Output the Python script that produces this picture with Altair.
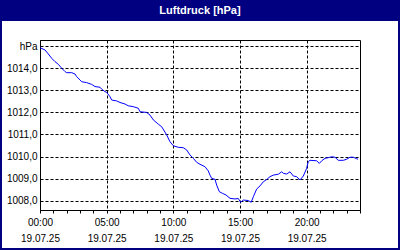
import altair as alt
import pandas as pd

TITLE = "Luftdruck [hPa]"
DATE_LABEL = "19.07.25"
UNIT = "hPa"

hours = [0, 0.375, 0.62, 0.88, 1.125, 1.37, 1.63, 1.875, 2.0, 2.38, 2.625, 2.75, 3.0, 3.13,
         3.5, 3.88, 4.125, 4.5, 4.63, 4.875, 5.0, 5.25, 5.38, 5.75, 6.0, 6.375, 6.62, 7.0,
         7.37, 7.5, 8.0, 8.25, 8.5, 8.87, 9.13, 9.5, 9.75, 10.0, 10.37, 10.75, 11.0, 11.25,
         11.5, 11.75, 12.0, 12.375, 12.62, 12.75, 12.88, 13.125, 13.25, 13.45, 13.7, 13.95,
         14.25, 14.625, 14.87, 15.05, 15.25, 15.62, 15.84, 16.0, 16.25, 16.5, 16.75, 17.0,
         17.25, 17.5, 17.87, 18.13, 18.25, 18.5, 18.75, 19.0, 19.25, 19.5, 19.75, 20.0,
         20.12, 20.25, 20.75, 20.95, 21.13, 21.375, 21.62, 21.88, 22.125, 22.37, 22.75,
         23.0, 23.25, 23.5, 23.75, 23.85]
pressure = [1014.93, 1014.83, 1014.65, 1014.45, 1014.30, 1014.18, 1014.00, 1013.85, 1013.80,
            1013.80, 1013.74, 1013.62, 1013.47, 1013.39, 1013.35, 1013.27, 1013.17, 1013.14,
            1013.05, 1012.94, 1012.91, 1012.71, 1012.56, 1012.52, 1012.45, 1012.38, 1012.30,
            1012.26, 1012.19, 1012.03, 1012.00, 1011.88, 1011.66, 1011.47, 1011.35, 1010.98,
            1010.67, 1010.49, 1010.42, 1010.40, 1010.30, 1010.07, 1009.92, 1009.74, 1009.65,
            1009.54, 1009.35, 1009.16, 1009.01, 1008.97, 1008.71, 1008.41, 1008.33, 1008.26,
            1008.11, 1008.08, 1008.10, 1007.93, 1008.03, 1008.01, 1007.93, 1008.18, 1008.53,
            1008.67, 1008.86, 1008.96, 1009.09, 1009.16, 1009.20, 1009.31, 1009.24, 1009.21,
            1009.31, 1009.12, 1009.09, 1008.94, 1009.12, 1009.47, 1009.77, 1009.83, 1009.81,
            1009.69, 1009.81, 1009.92, 1009.95, 1009.99, 1009.97, 1009.83, 1009.83, 1009.88,
            1009.97, 1009.97, 1009.90, 1009.88]

x_ticks = list(range(0, 25))
y_ticks = [1008, 1009, 1010, 1011, 1012, 1013, 1014, 1015]

df = pd.DataFrame({"h": hours, "p": pressure})

NAVY = "#000080"
FONT = "Liberation Sans"

one = alt.Data(values=[{"t": TITLE}])

frame = alt.Chart(one).mark_rect(fill="transparent", stroke=NAVY, strokeWidth=2, clip=False).encode(
    x=alt.value(-39), x2=alt.value(359), y=alt.value(-39), y2=alt.value(209)
)
bar = alt.Chart(one).mark_rect(fill=NAVY, clip=False).encode(
    x=alt.value(-40), x2=alt.value(360), y=alt.value(-40), y2=alt.value(-19)
)
title = alt.Chart(one).mark_text(
    color="white", font=FONT, fontSize=11, fontWeight="bold", align="center", baseline="middle", clip=False
).encode(x=alt.value(160), y=alt.value(-29), text="t:N")

x_axis = alt.Axis(
    values=x_ticks, title=None, tickSize=3, tickColor="black", domainColor="black",
    labelExpr=f"datum.value % 5 === 0 && datum.value < 24 ? [(datum.value < 10 ? '0' : '') + datum.value + ':00', '{DATE_LABEL}'] : ''",
    labelLineHeight=16, labelPadding=4, labelFont=FONT, labelFontSize=10, labelColor="black",
    labelFlush=False, labelOverlap=False,
    grid=True, gridColor="black", gridDash=[3, 2], gridWidth=1,
    gridOpacity={"condition": {"test": "datum.value % 5 === 0", "value": 1}, "value": 0},
)
y_axis = alt.Axis(
    values=y_ticks, title=None, ticks=False, tickSize=0, domainColor="black",
    labelExpr=f"datum.value === 1015 ? '{UNIT}' : replace(format(datum.value, '.1f'), '.', ',')",
    labelPadding=3, labelFont=FONT, labelFontSize=10, labelColor="black",
    grid=True, gridColor="black", gridDash=[3, 2], gridWidth=1,
)

line = alt.Chart(df).mark_line(color="#0000ff", strokeWidth=1).encode(
    x=alt.X("h:Q", scale=alt.Scale(domain=[0, 24], nice=False, zero=False), axis=x_axis),
    y=alt.Y("p:Q", scale=alt.Scale(domain=[1007.58, 1015.28], nice=False, zero=False), axis=y_axis),
)

chart = alt.layer(bar, frame, title, line).properties(
    width=320, height=170,
    autosize=alt.AutoSizeParams(type="none"),
    padding={"left": 40, "top": 40, "right": 40, "bottom": 40},
    background="white",
).configure_view(stroke="black", strokeWidth=1, fill="white")

chart.save("out.html", embed_options={"renderer": "svg", "actions": False})
